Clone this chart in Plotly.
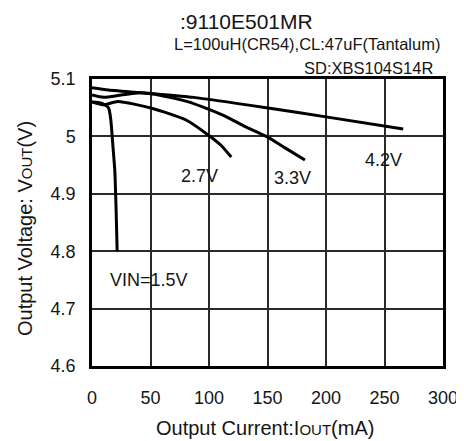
import plotly.graph_objects as go

# Data
x_42 = [0, 14, 48, 87, 152, 200, 266]
y_42 = [5.085, 5.081, 5.075, 5.068, 5.049, 5.034, 5.013]

x_33 = [0, 10, 25, 41, 60, 81, 100, 115, 130, 149, 165, 182]
y_33 = [5.072, 5.068, 5.072, 5.076, 5.071, 5.061, 5.047, 5.034, 5.018, 5.000, 4.980, 4.959]

x_27 = [0, 10, 22, 51, 80, 99, 110, 119]
y_27 = [5.060, 5.055, 5.061, 5.049, 5.029, 5.003, 4.985, 4.964]

x_15 = [0, 8, 14, 16, 18, 19.5, 20.5, 21.5]
y_15 = [5.060, 5.058, 5.050, 5.030, 4.980, 4.940, 4.880, 4.800]

series_labels = ["4.2V", "3.3V", "2.7V", "VIN=1.5V"]
label_x = [249, 171, 92, 49]
label_y = [4.959, 4.928, 4.931, 4.75]

x_ticks = [0, 50, 100, 150, 200, 250, 300]
y_ticks = [4.6, 4.7, 4.8, 4.9, 5.0, 5.1]
y_tick_text = ["4.6", "4.7", "4.8", "4.9", "5", "5.1"]

FONT = "Liberation Sans, Arial, sans-serif"
TXT = "#151515"

# page body has an 8px margin, so work in page pixels and shift
OFF = 8
L, R, T, B = 92 - OFF, 443 - OFF, 79 - OFF, 366 - OFF
W, H = 464 - OFF, 441 - OFF
PW, PH = R - L, B - T


def px_x(p):
    return (p - OFF - L) / PW


def px_y(p):
    return (B - (p - OFF)) / PH


fig = go.Figure()
for xs, ys in [(x_42, y_42), (x_33, y_33), (x_27, y_27), (x_15, y_15)]:
    fig.add_trace(go.Scatter(x=xs, y=ys, mode="lines",
                             line=dict(color="black", width=3, shape="spline", smoothing=0.6),
                             showlegend=False, hoverinfo="skip"))

for t, lx, ly in zip(series_labels, label_x, label_y):
    fig.add_annotation(x=lx, y=ly, text=t, showarrow=False,
                       font=dict(family=FONT, size=18, color=TXT))

small = "<span style='font-size:15px'>OUT</span>"
texts = [
    (":9110E501MR", 246, 21, 21, 0),
    ("L=100uH(CR54),CL:47uF(Tantalum)", 307, 44, 16.5, 0),
    ("SD:XBS104S14R", 368, 68, 16.5, 0),
    ("Output Current:I" + small + "(mA)", 265, 428, 20, 0),
    ("Output Voltage: V" + small + "(V)", 25, 229, 20, -90),
]
for t, x, y, s, ang in texts:
    fig.add_annotation(xref="paper", yref="paper", x=px_x(x), y=px_y(y), text=t,
                       showarrow=False, xanchor="center", yanchor="middle", textangle=ang,
                       font=dict(family=FONT, size=s, color=TXT))

fig.update_layout(
    width=W, height=H,
    margin=dict(l=L, r=W - R, t=T, b=H - B),
    paper_bgcolor="white", plot_bgcolor="white",
    font=dict(family=FONT, size=18, color=TXT),
)

fig.update_xaxes(range=[0, 300], tickvals=x_ticks, showgrid=True, gridcolor="#2a2a2a", gridwidth=2,
                 showline=True, linecolor="black", linewidth=2.5, mirror=True, zeroline=False,
                 ticks="", ticklabelstandoff=14, automargin=False, tickfont=dict(size=18))
fig.update_yaxes(range=[4.6, 5.1], tickvals=y_ticks, ticktext=y_tick_text, showgrid=True,
                 gridcolor="#2a2a2a", gridwidth=2,
                 showline=True, linecolor="black", linewidth=2.5, mirror=True, zeroline=False,
                 ticks="", ticklabelstandoff=10, automargin=False, tickfont=dict(size=18))

fig.write_html("out.html")
